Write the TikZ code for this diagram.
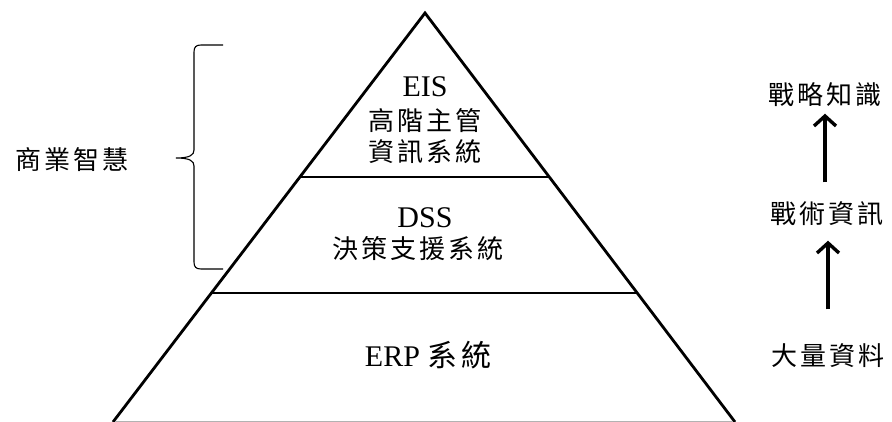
\documentclass[tikz,border=0pt]{standalone}
\usepackage{fontspec}
\setmainfont{Liberation Serif}
\newfontfamily\cjk[LetterSpace=12]{Noto Sans CJK TC}
\usetikzlibrary{arrows.meta}
\tikzset{
  cjktext/.style={inner sep=0pt, text height=21pt, text depth=4pt, font=\cjk\fontsize{26}{30}\selectfont},
  lattext/.style={inner sep=0pt, font=\fontsize{30}{34}\selectfont},
  pyr/.style={line width=2.8pt, line join=miter},
  upar/.style={line width=3.4pt, -{Straight Barb[length=10pt,width=22pt,line width=3.4pt]}},
  bracestyle/.style={line width=1.1pt}
}
\begin{document}
\begin{tikzpicture}[x=1pt,y=-1pt]
\useasboundingbox (0,0) rectangle (892,422);
% pyramid
\draw[pyr] (113,422) -- (425,13) -- (735,422);
\draw[pyr] (300,177) -- (549,177);
\draw[pyr] (211,293) -- (637,293);
\draw[gray!60, line width=1pt] (115,421.5) -- (733,421.5);
% pyramid texts
\node[lattext] (eis) at (425,87) {EIS};
\node[cjktext] (eis1) at (425,122) {高階主管};
\node[cjktext] (eis2) at (425,153) {資訊系統};
\node[lattext] (dss) at (425,218) {DSS};
\node[cjktext] (dss1) at (418,250) {決策支援系統};
\node[lattext] (erp) at (428,355) {ERP \cjk 系統};
% brace
\draw[bracestyle] (223,45) -- (201,45) .. controls (196,45) and (194,47) .. (194,52)
  -- (194,150) .. controls (194,155) and (190,158) .. (176,158)
  .. controls (190,158) and (194,161) .. (194,166)
  -- (194,262) .. controls (194,267) and (196,269) .. (201,269) -- (223,269);
\node[cjktext] (bi) at (72,161) {商業智慧};
% right side
\node[cjktext] (zl) at (825,96) {戰略知識};
\node[cjktext] (zs) at (827,215) {戰術資訊};
\node[cjktext] (dl) at (828,357) {大量資料};
\draw[upar, shorten <=35pt, shorten >=13pt] (dl.north) -- (dl.north |- zs.south);
\draw[upar, shorten <=20pt, shorten >=5pt] (zl.south |- zs.north) -- (zl.south);
\end{tikzpicture}
\end{document}
